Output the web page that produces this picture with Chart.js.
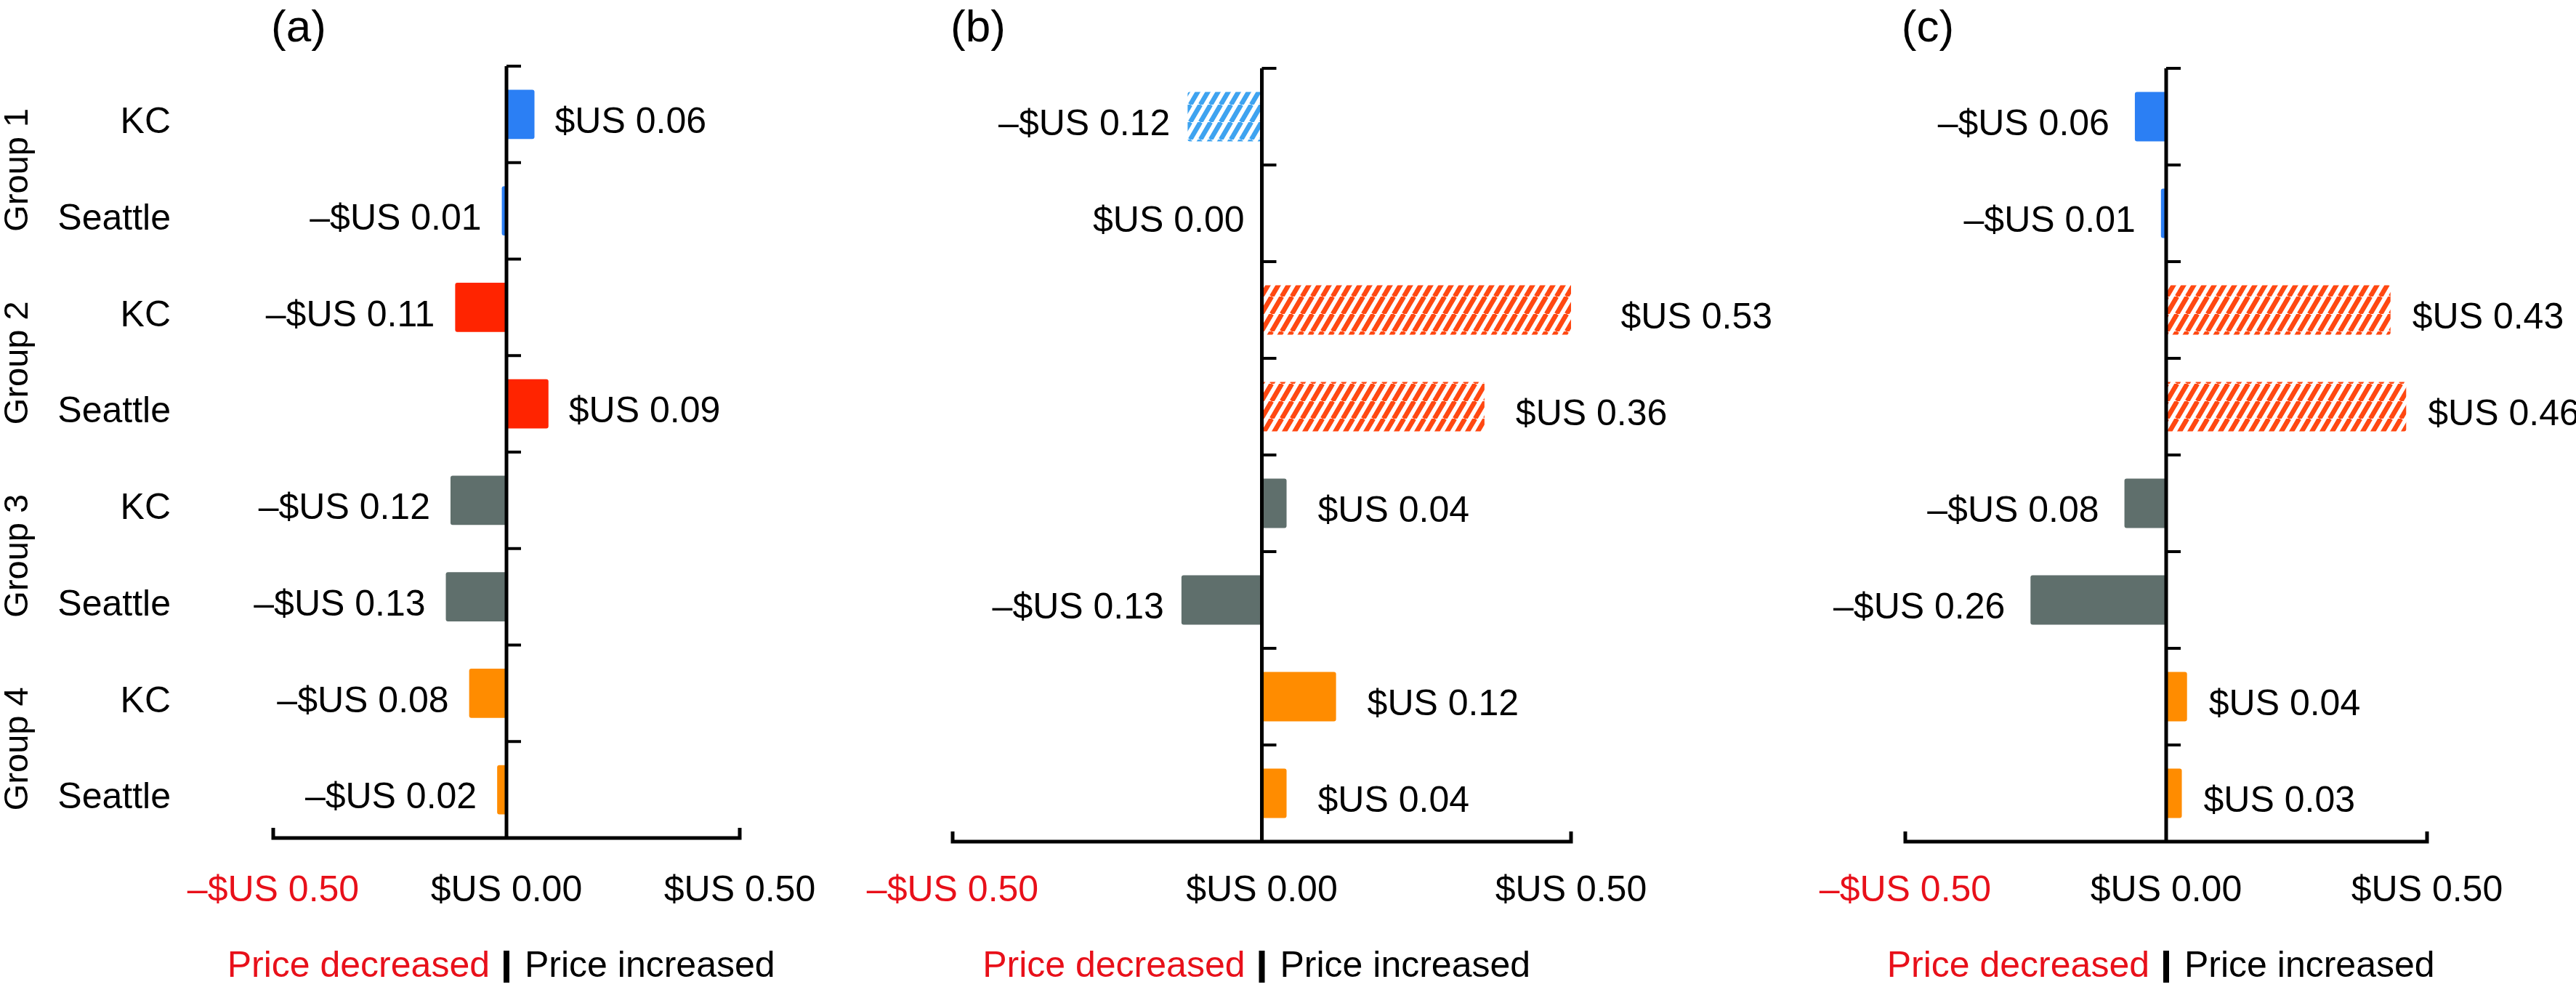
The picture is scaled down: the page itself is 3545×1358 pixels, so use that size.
<!DOCTYPE html>
<html>
<head>
<meta charset="utf-8">
<script src="https://cdn.jsdelivr.net/npm/chart.js@4.4.0/dist/chart.umd.min.js"></script>
<style>
  body { margin: 0; background: #fff; }
  #wrap { position: relative; width: 3545px; height: 1358px; }
  #wrap canvas { position: absolute; left: 0; top: 0; }
</style>
</head>
<body>
<div id="wrap">
  <canvas id="panelA" width="3545" height="1358"></canvas>
  <canvas id="panelB" width="3545" height="1358"></canvas>
  <canvas id="panelC" width="3545" height="1358"></canvas>
</div>
<script>
// categories (top to bottom)
const cities = ["KC", "Seattle", "KC", "Seattle", "KC", "Seattle", "KC", "Seattle"];
const groups = ["Group 1", "Group 2", "Group 3", "Group 4"];
const panelTitles = ["(a)", "(b)", "(c)"];

// price change, $US
const valuesA = [0.06, -0.01, -0.11, 0.09, -0.12, -0.13, -0.08, -0.02];
const valuesB = [-0.12, 0.00, 0.53, 0.36, 0.04, -0.13, 0.12, 0.04];
const valuesC = [-0.06, -0.01, 0.43, 0.46, -0.08, -0.26, 0.04, 0.03];

// which bars are hatched
const hatchedA = [false, false, false, false, false, false, false, false];
const hatchedB = [true, false, true, true, false, false, false, false];
const hatchedC = [false, false, true, true, false, false, false, false];

const xTicks = [-0.5, 0, 0.5];
const legendText = ["Price decreased", "Price increased"];

const W = 3545, H = 1358, XH = 140;
const FONT = "'Liberation Sans', Arial, Helvetica, sans-serif";
const RED_TEXT = "#e8101a";
const TEXT_DY = 12;

const solidColors = ["#2b7ff4", "#ff2400", "#5f6f6c", "#ff8c00"];
const hatchColors = ["#3ea3f0", "#ff4812", "#5f6f6c", "#ff8c00"];

function money(v) {
  const s = "$US " + Math.abs(v).toFixed(2);
  return v < 0 ? "\u2013" + s : s;
}

function makeHatch(color) {
  const w = 14, h = 24;
  const c = document.createElement("canvas");
  c.width = w; c.height = h;
  const g = c.getContext("2d");
  g.strokeStyle = color;
  g.lineWidth = 6.5;
  for (const dx of [-w, 0, w]) {
    g.beginPath();
    g.moveTo(dx, h);
    g.lineTo(dx + w, 0);
    g.stroke();
  }
  return g.createPattern(c, "repeat");
}

const hatchFill = hatchColors.map(makeHatch);

function barColors(hatched) {
  return cities.map((_, i) => {
    const grp = Math.floor(i / 2);
    return hatched[i] ? hatchFill[grp] : solidColors[grp];
  });
}

const panels = [
  { id: "panelA", values: valuesA, hatched: hatchedA, left: 376, right: 1018, top: 91, bottom: 1153,
    titleX: 411, gapPos: 28, gapNeg: 28, showCats: true },
  { id: "panelB", values: valuesB, hatched: hatchedB, left: 1311, right: 2162, top: 94, bottom: 1158,
    titleX: 1346, gapPos: 43, gapNeg: 24, showCats: false },
  { id: "panelC", values: valuesC, hatched: hatchedC, left: 2622, right: 3340, top: 94, bottom: 1158,
    titleX: 2653, gapPos: 30, gapNeg: 35, showCats: false }
];

function makeExtras(p, idx) {
  return {
    id: "extras" + idx,
    afterDatasetsDraw(chart) {
      const ctx = chart.ctx;
      const x = chart.scales.x, y = chart.scales.y;
      const x0 = x.getPixelForValue(0);
      ctx.save();
      ctx.strokeStyle = "#000";
      ctx.fillStyle = "#000";

      // y axis line with category ticks on the right
      ctx.lineWidth = 5;
      ctx.beginPath();
      ctx.moveTo(x0, y.top);
      ctx.lineTo(x0, y.bottom);
      ctx.stroke();
      ctx.lineWidth = 4;
      for (let i = 0; i < cities.length; i++) {
        const ty = y.getPixelForValue(i - 0.5);
        ctx.beginPath();
        ctx.moveTo(x0, ty);
        ctx.lineTo(x0 + 20, ty);
        ctx.stroke();
      }

      // x axis line with end ticks pointing up
      ctx.lineWidth = 5;
      ctx.lineJoin = "miter";
      ctx.beginPath();
      ctx.moveTo(x.left, y.bottom - 14);
      ctx.lineTo(x.left, y.bottom);
      ctx.lineTo(x.right, y.bottom);
      ctx.lineTo(x.right, y.bottom - 14);
      ctx.stroke();

      // value labels
      ctx.font = "50px " + FONT;
      ctx.textBaseline = "middle";
      p.values.forEach((v, i) => {
        const cy = y.getPixelForValue(i) + TEXT_DY;
        const bx = x.getPixelForValue(v);
        if (v > 0) {
          ctx.textAlign = "left";
          ctx.fillText(money(v), bx + p.gapPos, cy);
        } else {
          ctx.textAlign = "right";
          ctx.fillText(money(v), bx - p.gapNeg, cy);
        }
      });

      // category and group labels (left panel only)
      if (p.showCats) {
        ctx.textAlign = "right";
        cities.forEach((c, i) => {
          ctx.fillText(c, 235, y.getPixelForValue(i) + TEXT_DY);
        });
        ctx.font = "47px " + FONT;
        ctx.textAlign = "center";
        groups.forEach((g, k) => {
          const gy = y.getPixelForValue(2 * k + 0.5) + 10;
          ctx.save();
          ctx.translate(25, gy);
          ctx.rotate(-Math.PI / 2);
          ctx.fillText(g, 0, 0);
          ctx.restore();
        });
      }

      // panel title
      ctx.font = "62px " + FONT;
      ctx.textAlign = "center";
      ctx.fillText(panelTitles[idx], p.titleX, 40);

      // legend under the axis
      ctx.font = "50px " + FONT;
      ctx.textAlign = "right";
      ctx.fillStyle = RED_TEXT;
      ctx.fillText(legendText[0], x0 - 23, 1330);
      ctx.textAlign = "left";
      ctx.fillStyle = "#000";
      ctx.fillText(legendText[1], x0 + 25, 1330);
      ctx.fillRect(x0 - 4, 1308, 8, 44);

      ctx.restore();
    }
  };
}

panels.forEach((p, idx) => {
  new Chart(document.getElementById(p.id), {
    type: "bar",
    data: {
      labels: cities,
      datasets: [{
        data: p.values,
        backgroundColor: barColors(p.hatched),
        borderWidth: 0,
        borderRadius: 3,
        barPercentage: 0.51,
        categoryPercentage: 1
      }]
    },
    options: {
      responsive: false,
      animation: false,
      indexAxis: "y",
      layout: {
        padding: { left: p.left, right: W - p.right, top: p.top, bottom: H - p.bottom - XH }
      },
      scales: {
        x: {
          type: "linear",
          min: -0.5,
          max: 0.5,
          afterBuildTicks: (s) => { s.ticks = xTicks.map((v) => ({ value: v })); },
          afterFit: (s) => { s.height = XH; },
          grid: { display: false, drawTicks: false },
          border: { display: false },
          ticks: {
            padding: 1226 - p.bottom - 30,
            autoSkip: false,
            maxRotation: 0,
            font: { size: 50, family: FONT, lineHeight: 1.2 },
            color: (c) => (c.tick && c.tick.value < 0 ? RED_TEXT : "#000"),
            callback: (v) => money(v)
          }
        },
        y: { type: "category", display: false, offset: true }
      },
      plugins: { legend: { display: false }, tooltip: { enabled: false } }
    },
    plugins: [makeExtras(p, idx)]
  });
});
</script>
</body>
</html>
